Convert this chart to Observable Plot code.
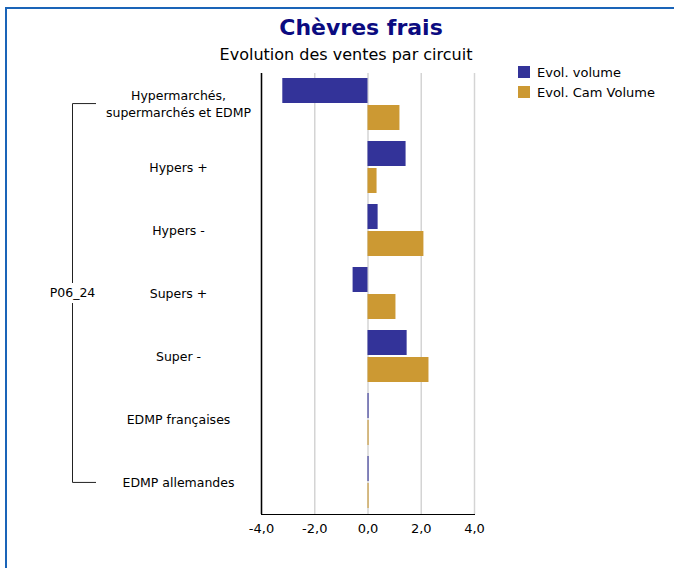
<!DOCTYPE html>
<html><head><meta charset="utf-8">
<script src="https://cdn.jsdelivr.net/npm/d3@7"></script>
<script src="https://cdn.jsdelivr.net/npm/@observablehq/plot@0.6"></script>
<style>
body{margin:0;background:#fff;font-family:"DejaVu Sans",sans-serif;}
#wrap{position:relative;width:674px;height:568px;overflow:hidden;background:#fff;}
#border{position:absolute;left:5px;top:7px;width:720px;height:620px;border-left:2px solid #1a64b8;border-top:2px solid #1a64b8;}
#title{position:absolute;top:15px;left:0;width:722px;text-align:center;font-size:22px;font-weight:bold;color:#0b0b80;line-height:26px;}
#subtitle{position:absolute;top:45px;left:0;width:692px;text-align:center;font-size:16px;color:#000;line-height:20px;}
#legend{position:absolute;left:518px;top:62px;font-size:13px;color:#000;}
#legend div{display:flex;align-items:center;height:20px;}
#legend span.sw{display:inline-block;width:12px;height:12px;margin-right:7px;}
#chart{position:absolute;left:0;top:0;}
</style></head>
<body>
<div id="wrap">
  <div id="border"></div>
  <div id="chart"></div>
  <div id="title"></div>
  <div id="subtitle"></div>
  <div id="legend"></div>
</div>
<script>
const titleText = "Chèvres frais";
const subtitleText = "Evolution des ventes par circuit";
const groupLabel = "P06_24";
const categories = [
  "Hypermarchés,\nsupermarchés et EDMP",
  "Hypers +",
  "Hypers -",
  "Supers +",
  "Super -",
  "EDMP françaises",
  "EDMP allemandes"
];
const seriesNames = ["Evol. volume", "Evol. Cam Volume"];
const seriesColors = ["#333399", "#cc9933"];
const evolVolume = [-3.2, 1.43, 0.38, -0.56, 1.47, 0.04, 0.04];
const evolCamVolume = [1.2, 0.34, 2.1, 1.05, 2.29, 0.04, 0.04];
const xTicks = [-4, -2, 0, 2, 4];

document.getElementById("title").textContent = titleText;
document.getElementById("subtitle").textContent = subtitleText;
const leg = document.getElementById("legend");
seriesNames.forEach((s, i) => {
  const d = document.createElement("div");
  const sw = document.createElement("span");
  sw.className = "sw"; sw.style.background = seriesColors[i];
  d.appendChild(sw);
  d.appendChild(document.createTextNode(s));
  leg.appendChild(d);
});

const data = [];
categories.forEach((c, i) => {
  data.push({cat: c, series: seriesNames[0], value: evolVolume[i]});
  data.push({cat: c, series: seriesNames[1], value: evolCamVolume[i]});
});
const catData = categories.map(c => ({cat: c}));

const fmt = d => d3.format(".1f")(d).replace(".", ",").replace("−", "-");

const W = 674, H = 568, mT = 72, mB = 54, mL = 261, mR = 200;
const chart = Plot.plot({
  width: W, height: H,
  marginTop: mT, marginBottom: mB, marginLeft: mL, marginRight: mR,
  style: {fontFamily: "DejaVu Sans, sans-serif", fontSize: "13px", color: "#000", background: "transparent"},
  x: {domain: [-4, 4], ticks: xTicks, tickFormat: fmt, tickSize: 0, tickPadding: 9, line: true, label: null},
  y: {domain: seriesNames, paddingInner: 0.07, paddingOuter: 0.17, axis: null},
  fy: {domain: categories, padding: 0, axis: null},
  color: {domain: seriesNames, range: seriesColors},
  facet: {data: data, y: "cat"},
  marks: [
    Plot.ruleX(xTicks, {stroke: "#d4d4d4", strokeWidth: 1.5}),
    Plot.barX(data, {x: "value", y: "series", fill: "series"}),
    Plot.ruleX([-4], {stroke: "#000", strokeWidth: 1.5}),
    Plot.text(catData, {fy: "cat", text: "cat", frameAnchor: "left", dx: -83, dy: -2, textAnchor: "middle", lineHeight: 1.4, fontSize: 12.5, fill: "#000"})
  ]
});
document.getElementById("chart").appendChild(chart);

// group bracket drawn from the fy scale
const fyDesc = chart.scale("fy");
const fyScale = d3.scaleBand().domain(fyDesc.domain).range(fyDesc.range).padding(0);
const yTop = fyScale(categories[0]) + fyScale.bandwidth() / 2;
const yBot = fyScale(categories[categories.length - 1]) + fyScale.bandwidth() / 2;
const yMid = (fyScale.range()[0] + fyScale.range()[1]) / 2;
const svg = d3.select(chart);
const g = svg.append("g").attr("stroke", "#222").attr("fill", "none").attr("stroke-width", 1);
const bx = 72.5, bx2 = 96;
g.append("path").attr("d", `M${bx2},${yTop}H${bx}V${yMid - 10}`);
g.append("path").attr("d", `M${bx},${yMid + 10}V${yBot}H${bx2}`);
svg.append("text").attr("x", bx).attr("y", yMid).attr("dy", "0.35em")
  .attr("text-anchor", "middle").attr("font-size", 12.5).attr("fill", "#000")
  .attr("font-family", "DejaVu Sans, sans-serif").text(groupLabel);
</script>
</body></html>
